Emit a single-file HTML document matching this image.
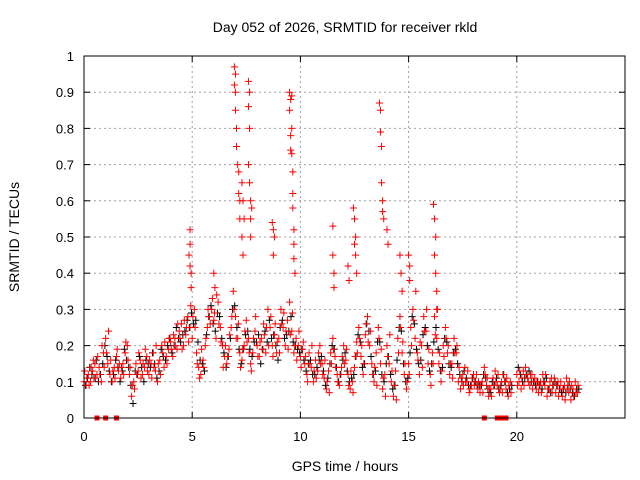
<!DOCTYPE html>
<html><head><meta charset="utf-8"><style>
body{margin:0;background:#fff;}
svg{display:block;font-family:"Liberation Sans",sans-serif;}
</style></head><body>
<svg id="chart" width="640" height="480" viewBox="0 0 640 480">
<rect x="0" y="0" width="640" height="480" fill="#fff"/>
<text x="345" y="32" font-size="14" text-anchor="middle">Day 052 of 2026, SRMTID for receiver rkld</text>
<text x="345" y="471" font-size="14" text-anchor="middle">GPS time / hours</text>
<text transform="translate(19,237) rotate(-90)" font-size="14" text-anchor="middle">SRMTID / TECUs</text>
<g id="grid"></g>
<g id="ticks"></g>
<g id="marks"></g>
<rect x="84" y="56" width="541" height="362" fill="none" stroke="#000" stroke-width="1"/>
</svg>
<script>
const xTicks=[0,5,10,15,20];
const yTicks=[0,0.1,0.2,0.3,0.4,0.5,0.6,0.7,0.8,0.9,1];
const yTickLabels=["0","0.1","0.2","0.3","0.4","0.5","0.6","0.7","0.8","0.9","1"];
const sampleStep=0.1;
const redVals=[
0.10,0.09,0.12,0.10,0.13,0.15,0.12,0.14,0.10,0.18,
0.22,0.15,0.12,0.10,0.14,0.17,0.13,0.11,0.15,0.18,
0.20,0.12,0.06,0.10,0.15,0.13,0.16,0.12,0.14,0.17,
0.12,0.15,0.18,0.13,0.10,0.16,0.20,0.14,0.17,0.19,
0.21,0.17,0.22,0.19,0.24,0.26,0.20,0.23,0.28,0.25,
0.22,0.30,0.18,0.14,0.12,0.16,0.20,0.25,0.28,0.30,
0.27,0.22,0.32,0.25,0.20,0.17,0.15,0.19,0.25,0.35,
0.28,0.22,0.18,0.16,0.20,0.27,0.22,0.15,0.18,0.24,
0.20,0.17,0.22,0.26,0.18,0.30,0.25,0.20,0.23,0.18,
0.22,0.30,0.25,0.20,0.27,0.32,0.24,0.18,0.22,0.20,
0.17,0.19,0.15,0.12,0.18,0.14,0.10,0.16,0.13,0.20,
0.15,0.11,0.08,0.13,0.18,0.22,0.17,0.12,0.09,0.14,
0.20,0.16,0.12,0.08,0.10,0.14,0.21,0.25,0.17,0.12,
0.23,0.28,0.20,0.15,0.10,0.18,0.25,0.15,0.08,0.12,
0.20,0.15,0.10,0.06,0.13,0.22,0.28,0.18,0.12,0.08,
0.15,0.25,0.30,0.22,0.18,0.12,0.20,0.28,0.24,0.15,
0.12,0.18,0.28,0.22,0.15,0.10,0.20,0.25,0.18,0.12,
0.15,0.22,0.18,0.10,0.08,0.12,0.14,0.10,0.07,0.09,
0.12,0.10,0.08,0.07,0.10,0.14,0.09,0.06,0.08,0.11,
0.13,0.09,0.07,0.10,0.12,0.08,0.06,0.10,null,null,
0.12,0.10,0.08,0.13,0.14,0.11,0.09,0.12,0.10,0.08,
0.07,0.10,0.12,0.09,0.06,0.08,0.11,0.09,0.07,0.10,
0.08,0.06,0.09,0.11,0.07,0.05,0.08,0.10,0.07];
const redVals2=[
0.13,0.11,0.09,0.14,0.16,0.11,0.17,0.12,0.20,0.14,
0.18,0.24,0.16,0.13,0.11,0.19,0.15,0.14,0.12,0.21,
0.16,0.14,0.09,0.08,0.12,0.18,0.11,0.15,0.19,0.13,
0.16,0.11,0.14,0.20,0.15,0.12,0.18,0.21,0.15,0.22,
0.19,0.23,0.20,0.26,0.22,0.19,0.27,0.25,0.21,0.31,
0.28,0.25,0.15,0.11,0.19,0.14,0.22,0.30,0.26,0.33,
0.29,0.34,0.26,0.21,0.14,0.20,0.17,0.23,0.28,0.30,
0.22,0.26,0.14,0.19,0.24,0.21,0.18,0.13,0.22,0.28,
0.17,0.21,0.19,0.23,0.25,0.20,0.28,0.17,0.26,0.21,
0.18,0.26,0.29,0.24,0.19,0.23,0.29,0.20,0.16,0.24,
0.14,0.21,0.17,0.10,0.15,0.20,0.13,0.11,0.18,0.15,
0.12,0.16,0.10,0.07,0.15,0.19,0.14,0.10,0.12,0.17,
0.15,0.19,0.09,0.13,0.07,0.17,0.18,0.22,0.20,0.15,
0.26,0.21,0.24,0.12,0.14,0.09,0.22,0.19,0.11,0.06,
0.17,0.23,0.13,0.09,0.05,0.18,0.25,0.21,0.15,0.10,
0.12,0.20,0.27,0.35,0.16,0.21,0.14,0.24,0.30,0.19,
0.09,0.15,0.23,0.30,0.18,0.13,0.17,0.22,0.20,0.15,
0.11,0.18,0.20,0.14,0.11,0.09,0.10,0.13,0.08,0.11,
0.09,0.12,0.10,0.09,0.07,0.12,0.11,0.08,0.06,0.09,
0.10,0.12,0.08,0.07,0.10,0.11,0.09,0.07,null,null,
0.09,0.13,0.11,0.09,0.12,0.10,0.12,0.08,0.11,0.10,
0.09,0.07,0.10,0.12,0.08,0.10,0.07,0.11,0.09,0.06,
0.10,0.08,0.05,0.08,0.10,0.09,0.06,0.07,0.09];
const blackVals=[
0.09,0.11,0.14,0.12,0.11,0.16,0.10,0.12,0.15,0.20,
0.17,0.13,0.10,0.12,0.16,0.14,0.10,0.13,0.19,0.16,
0.14,0.09,0.04,0.13,0.12,0.17,0.14,0.10,0.16,0.15,
0.14,0.18,0.15,0.11,0.13,0.19,0.17,0.16,0.20,0.22,
0.18,0.20,0.25,0.22,0.21,0.23,0.24,0.27,0.25,0.29,
0.26,0.27,0.21,0.16,0.15,0.13,0.23,0.28,0.31,0.26,
0.24,0.29,0.28,0.22,0.18,0.14,0.17,0.22,0.30,0.31,
0.25,0.19,0.15,0.19,0.23,0.24,0.19,0.17,0.21,0.21,
0.23,0.15,0.19,0.24,0.21,0.27,0.22,0.23,0.20,0.16,
0.25,0.27,0.22,0.23,0.24,0.28,0.21,0.20,0.19,0.18,
0.19,0.16,0.13,0.15,0.16,0.12,0.12,0.14,0.16,0.17,
0.13,0.09,0.11,0.15,0.20,0.19,0.14,0.10,0.12,0.16,
0.18,0.13,0.10,0.11,0.12,0.17,0.23,0.21,0.14,0.15,
0.26,0.24,0.17,0.12,0.13,0.21,0.21,0.12,0.10,0.15,
0.17,0.12,0.08,0.09,0.16,0.25,0.24,0.15,0.10,0.11,
0.18,0.28,0.26,0.19,0.15,0.16,0.23,0.25,0.20,0.13,
0.15,0.21,0.25,0.19,0.13,0.14,0.22,0.21,0.15,0.14,
0.18,0.19,0.15,0.12,0.10,0.13,0.11,0.09,0.09,0.11,
0.10,0.09,0.09,0.09,0.12,0.11,0.08,0.07,0.10,0.09,
0.11,0.08,0.09,0.12,0.10,0.07,0.08,0.09,null,null,
0.14,0.12,0.10,0.11,0.12,0.13,0.10,0.10,0.09,0.10,
0.09,0.08,0.10,0.11,0.08,0.07,0.09,0.10,0.09,0.08,
0.07,0.08,0.07,0.09,0.08,0.07,0.06,0.08,0.08];
const spikeTimes=[4.85,4.9,4.9,4.9,4.95,4.95,6.0,6.05,6.95,6.95,7.0,7.0,7.0,7.05,7.05,7.1,7.15,7.15,7.2,7.2,7.3,7.3,7.35,7.35,7.4,7.6,7.6,7.6,7.65,7.65,7.65,7.7,7.7,7.7,7.75,8.7,8.75,8.75,8.8,9.5,9.5,9.55,9.55,9.55,9.6,9.6,9.6,9.65,9.65,9.65,9.7,9.7,9.7,9.75,11.5,11.5,11.55,11.55,12.2,12.25,12.45,12.5,12.5,12.55,12.55,12.6,13.65,13.7,13.7,13.75,13.75,13.8,13.8,13.85,14.0,14.05,14.6,14.65,14.7,15.0,15.05,15.05,16.15,16.2,16.2,16.25,16.25,16.3,16.3];
const spikeVals=[0.45,0.52,0.48,0.42,0.40,0.36,0.40,0.36,0.97,0.92,0.95,0.90,0.85,0.80,0.75,0.70,0.68,0.62,0.60,0.55,0.65,0.50,0.60,0.45,0.55,0.93,0.86,0.70,0.90,0.80,0.65,0.60,0.55,0.50,0.58,0.54,0.52,0.45,0.50,0.90,0.85,0.88,0.78,0.74,0.89,0.80,0.73,0.68,0.62,0.58,0.52,0.48,0.44,0.40,0.53,0.45,0.40,0.36,0.42,0.38,0.58,0.55,0.48,0.50,0.45,0.40,0.87,0.85,0.79,0.75,0.65,0.60,0.57,0.55,0.52,0.48,0.45,0.40,0.35,0.45,0.42,0.38,0.59,0.55,0.45,0.50,0.40,0.35,0.30];
const gapTimes=[0.6,1.0,1.5,18.5,19.1,19.2,19.3,19.5];

const NS='http://www.w3.org/2000/svg';
const X0=84,X1=625,Y0=418,Y1=56,XMAX=25;
function xs(t){return X0+(X1-X0)*t/XMAX;}
function ys(v){return Y0-(Y0-Y1)*v;}
function mk(tag,at,parent){const e=document.createElementNS(NS,tag);for(const k in at)e.setAttribute(k,at[k]);parent.appendChild(e);return e;}
const grid=document.getElementById('grid'),ticks=document.getElementById('ticks'),marks=document.getElementById('marks');
yTicks.forEach((v,i)=>{
  const y=ys(v);
  if(i>0&&i<yTicks.length-1){const g=mk('line',{x1:X0,x2:X1,y1:y,y2:y,stroke:'#a0a0a0','stroke-dasharray':'2,3','stroke-width':1},grid);
  
  }
  mk('line',{x1:X0,x2:X0+6,y1:y,y2:y,stroke:'#000'},ticks);
  mk('line',{x1:X1,x2:X1-6,y1:y,y2:y,stroke:'#000'},ticks);
  const t=mk('text',{x:X0-10,y:y+5,'font-size':13,'text-anchor':'end'},ticks);t.textContent=yTickLabels[i];
  
  
});
xTicks.forEach(v=>{
  const x=xs(v);
  if(v>0){const g=mk('line',{x1:x,x2:x,y1:Y1,y2:Y0,stroke:'#a0a0a0','stroke-dasharray':'2,3','stroke-width':1},grid);
  
  }
  mk('line',{x1:x,x2:x,y1:Y0,y2:Y0-6,stroke:'#000'},ticks);
  mk('line',{x1:x,x2:x,y1:Y1,y2:Y1+6,stroke:'#000'},ticks);
  const t=mk('text',{x:x,y:Y0+23,'font-size':13,'text-anchor':'middle'},ticks);t.textContent=String(v);
  
  
});
function plus(t,v,color,name){
  const x=xs(t),y=ys(v);
  const p=mk('path',{d:`M${x-3.5},${y}H${x+3.5}M${x},${y-3.5}V${y+3.5}`,stroke:color,'stroke-width':1,fill:'none'},marks);
  
  
}
blackVals.forEach((v,i)=>{if(v!==null)plus(i*sampleStep+0.066,v,'#000','black-point');});
redVals.forEach((v,i)=>{if(v!==null)plus(i*sampleStep,v,'#ff0000','red-point');});
redVals2.forEach((v,i)=>{if(v!==null)plus(i*sampleStep+0.033,v,'#ff0000','red-point');});
spikeTimes.forEach((t,i)=>plus(t,spikeVals[i],'#ff0000','red-spike-point'));
gapTimes.forEach(t=>{
  const r=mk('rect',{x:xs(t)-2.5,y:Y0-2.5,width:5,height:5,fill:'#ff0000'},marks);
  
  
});
</script>
</body></html>
